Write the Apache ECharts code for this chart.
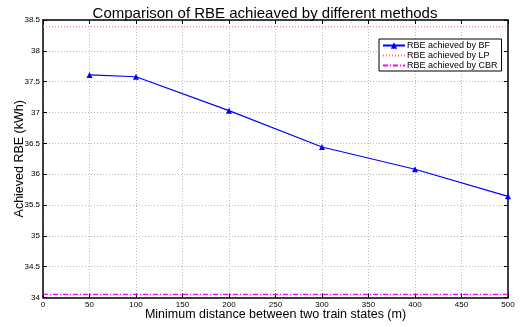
<!DOCTYPE html>
<html>
<head>
<meta charset="utf-8">
<script src="https://cdn.jsdelivr.net/npm/echarts@6/dist/echarts.min.js"></script>
<style>
  html, body { margin: 0; padding: 0; background: #fff; }
  #chart { width: 530px; height: 327px; }
</style>
</head>
<body>
<div id="chart"></div>
<script>
// Minimum distance between two train states (m)
const distances = [50, 100, 200, 300, 400, 500];
// RBE achieved by brute force search (kWh)
const bfRbe = [37.61, 37.58, 37.03, 36.44, 36.08, 35.64];
// Constant reference levels for the LP and CBR methods (kWh)
const lpRbe = 38.39;
const cbrRbe = 34.05;
const xRange = [0, 500];

const font = 'Liberation Sans, Arial, Helvetica, sans-serif';

const chart = echarts.init(document.getElementById('chart'));

const gridLine = { show: true, lineStyle: { color: '#b8b8b8', type: [1, 2], width: 1 } };
const axisLine = { show: true, onZero: false, lineStyle: { color: '#000', width: 1.5 } };
const tick = { show: true, inside: true, length: 4, lineStyle: { color: '#000', width: 1 } };

chart.setOption({
  animation: false,
  backgroundColor: '#fff',
  title: {
    text: 'Comparison of RBE achieaved by different methods',
    left: 'center',
    top: 1,
    textStyle: { fontFamily: font, fontSize: 15, fontWeight: 'normal', color: '#000' }
  },
  grid: { left: 43, right: 22, top: 20, bottom: 29.5, outerBoundsMode: 'none', containLabel: false },
  legend: {
    orient: 'vertical',
    left: 379,
    top: 39,
    padding: [2, 4, 1, 3],
    itemGap: 1,
    itemWidth: 22,
    itemHeight: 8,
    backgroundColor: '#fff',
    borderColor: '#000',
    borderWidth: 1,
    borderRadius: 0,
    textStyle: { fontFamily: font, fontSize: 9, color: '#000', padding: [0, 0, 0, -3] },
    data: [
      { name: 'RBE achieved by BF' },
      { name: 'RBE achieved by LP', itemStyle: { opacity: 0 } },
      { name: 'RBE achieved by CBR', itemStyle: { opacity: 0 } }
    ]
  },
  xAxis: [{
    type: 'value',
    min: 0, max: 500, interval: 50,
    name: 'Minimum distance between two train states (m)',
    nameLocation: 'middle',
    nameGap: 11,
    nameMoveOverlap: false,
    nameTextStyle: { fontFamily: font, fontSize: 12.5, color: '#000' },
    axisLine: axisLine,
    axisTick: tick,
    axisLabel: { fontFamily: font, fontSize: 8, color: '#000', margin: 3 },
    splitLine: gridLine
  }, {
    type: 'value', position: 'top',
    min: 0, max: 500, interval: 50,
    axisLine: axisLine,
    axisTick: tick,
    axisLabel: { show: false },
    splitLine: { show: false }
  }],
  yAxis: [{
    type: 'value',
    min: 34, max: 38.5, interval: 0.5,
    name: 'Achieved RBE (kWh)',
    nameLocation: 'middle',
    nameGap: 17,
    nameMoveOverlap: false,
    nameTextStyle: { fontFamily: font, fontSize: 12.5, color: '#000' },
    axisLine: axisLine,
    axisTick: tick,
    axisLabel: { fontFamily: font, fontSize: 8, color: '#000', margin: 3 },
    splitLine: gridLine
  }, {
    type: 'value', position: 'right',
    min: 34, max: 38.5, interval: 0.5,
    axisLine: axisLine,
    axisTick: tick,
    axisLabel: { show: false },
    splitLine: { show: false }
  }],
  series: [{
    name: 'RBE achieved by BF',
    type: 'line',
    data: distances.map((d, i) => [d, bfRbe[i]]),
    symbol: 'triangle',
    symbolSize: 6,
    color: '#0000ff',
    lineStyle: { color: '#0000ff', width: 1.2 },
    itemStyle: { color: '#0000ff' }
  }, {
    name: 'RBE achieved by LP',
    type: 'line',
    data: xRange.map(d => [d, lpRbe]),
    symbol: 'none',
    color: '#ff6666',
    lineStyle: { color: '#ff6666', width: 1, type: [1, 2] }
  }, {
    name: 'RBE achieved by CBR',
    type: 'line',
    data: xRange.map(d => [d, cbrRbe]),
    symbol: 'none',
    color: '#ff00ff',
    lineStyle: { color: '#ff00ff', width: 1.2, type: [5, 2, 1, 2] }
  }]
});
</script>
</body>
</html>
